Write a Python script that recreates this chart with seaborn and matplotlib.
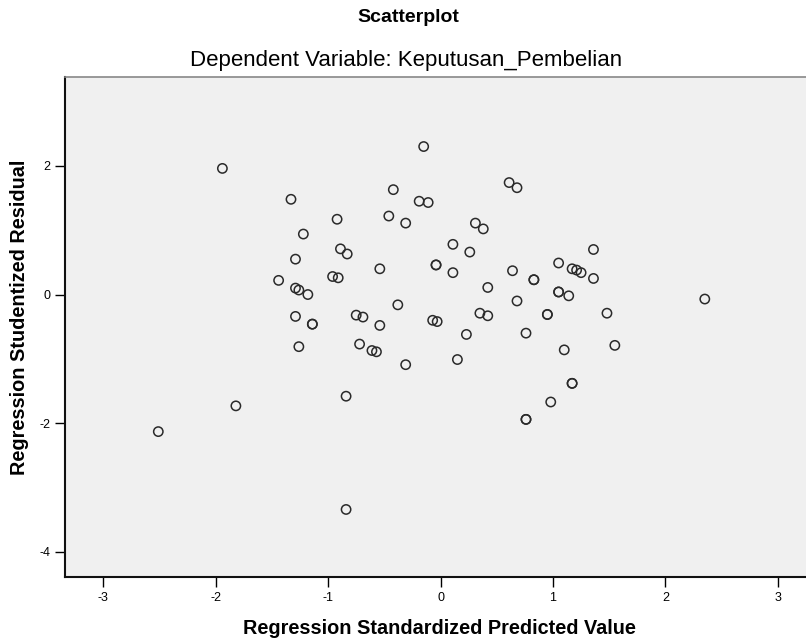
import matplotlib
matplotlib.use("Agg")
import matplotlib.pyplot as plt
import seaborn as sns
import pandas as pd

# values (duplicates where markers look doubled)
pred = [-1.94, -1.33, -1.22, -1.29, -1.44, -1.29, -1.26, -1.18, -1.29,
        -0.15, -0.42, -0.19, -0.11, 0.61, 0.68, -0.92, -0.46, -0.31, 0.31, 0.38,
        -0.89, -0.83, 0.11, 0.26, -0.54, -0.04, -0.04, -0.96, -0.91, 0.11,
        0.64, 0.83, 0.83, 1.05, 1.05, 1.05, 0.42, 0.68, -0.38, -0.75,
        -0.69, 0.35, 0.42, 0.95, 0.95, -0.07, -0.03, 1.36, 1.17, 1.21,
        1.25, 1.36, 1.14, 2.35, 1.48, -1.14, -1.14, -1.26, -1.82, -2.51,
        -0.54, -0.72, -0.61, -0.57, -0.31, 0.23, 0.15, 0.76, -0.84, 0.98,
        0.76, 0.76, 1.10, 1.55, 1.17, 1.17, -0.84]
resid = [1.96, 1.48, 0.94, 0.55, 0.22, 0.10, 0.07, 0.00, -0.34,
         2.30, 1.63, 1.45, 1.43, 1.74, 1.66, 1.17, 1.22, 1.11, 1.11, 1.02,
         0.71, 0.63, 0.78, 0.66, 0.40, 0.46, 0.46, 0.28, 0.26, 0.34,
         0.37, 0.23, 0.23, 0.49, 0.04, 0.04, 0.11, -0.10, -0.16, -0.32,
         -0.35, -0.29, -0.33, -0.31, -0.31, -0.40, -0.42, 0.70, 0.40, 0.38,
         0.34, 0.25, -0.02, -0.07, -0.29, -0.46, -0.46, -0.81, -1.73, -2.13,
         -0.48, -0.77, -0.87, -0.89, -1.09, -0.62, -1.01, -0.60, -1.58, -1.67,
         -1.94, -1.94, -0.86, -0.79, -1.38, -1.38, -3.34]

xticks = [-3, -2, -1, 0, 1, 2, 3]
yticks = [-4, -2, 0, 2]

df = pd.DataFrame({"pred": pred, "resid": resid})

plt.rcParams['font.family'] = ['Liberation Sans', 'DejaVu Sans']
plt.rcParams['axes.unicode_minus'] = False

fig = plt.figure(figsize=(8.06, 6.42), dpi=100)
ax = fig.add_axes([0.0806, 0.1012, 0.9194, 0.7788])
ax.set_facecolor('#f0f0f0')

sns.scatterplot(data=df, x="pred", y="resid", ax=ax, s=45,
                facecolor='none', edgecolor='#2a2a2a', linewidth=1.1)

ax.set_xlim(-3.34, 3.25)
ax.set_ylim(-4.39, 3.38)
ax.set_xticks(xticks)
ax.set_yticks(yticks)
ax.tick_params(axis='both', labelsize=9, length=7, width=1, direction='out', colors='black')

for s in ['left', 'bottom']:
    ax.spines[s].set_color('#111111')
    ax.spines[s].set_linewidth(1.5)
ax.spines['top'].set_color('#888888')
ax.spines['top'].set_linewidth(1.2)
ax.spines['right'].set_visible(False)

ax.set_xlabel('Regression Standardized Predicted Value', fontsize=14.3, fontweight='bold')
ax.set_ylabel('Regression Studentized Residual', fontsize=14.3, fontweight='bold')
ax.xaxis.set_label_coords(0.506, -0.102)
ax.yaxis.set_label_coords(-0.061, 0.52)
ax.xaxis.label.set_va('center')
ax.yaxis.label.set_va('center')

fig.text(0.506, 0.972, 'Scatterplot', ha='center', va='center', fontsize=14, fontweight='bold')
fig.text(0.504, 0.905, 'Dependent Variable: Keputusan_Pembelian', ha='center', va='center', fontsize=16)

fig.savefig('out.png', dpi=100, facecolor='white')
